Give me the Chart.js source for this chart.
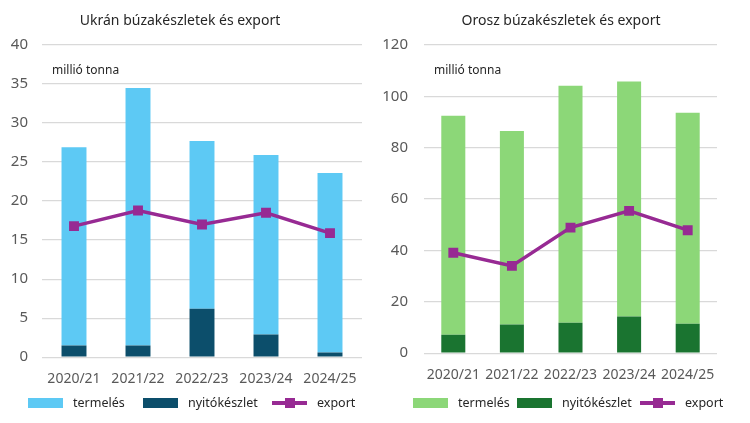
<!DOCTYPE html>
<html>
<head>
<meta charset="utf-8">
<script src="https://cdn.jsdelivr.net/npm/chart.js@4"></script>
<style>
  html, body { margin: 0; padding: 0; background: #fff; }
  .wrap { display: flex; width: 750px; height: 423px; }
  .panel { position: relative; width: 375px; height: 423px; }
  .legend { position: absolute; top: 394px; left: 0; width: 375px; height: 18px;
            font: 12.5px "Noto Sans", "Open Sans", sans-serif; color: #262626; }
  .legend span { position: absolute; top: 0; line-height: 18px; white-space: nowrap; }
  .legend i { position: absolute; display: block; }
</style>
</head>
<body>
<div class="wrap">
  <div class="panel"><canvas id="ukr" width="375" height="423"></canvas><div class="legend" id="ukr-legend"></div></div>
  <div class="panel"><canvas id="rus" width="375" height="423"></canvas><div class="legend" id="rus-legend"></div></div>
</div>
<script>
// ---- Data ----------------------------------------------------------------
const seasons = ['2020/21', '2021/22', '2022/23', '2023/24', '2024/25'];

// Ukraine (million tonnes)
const ukrOpening    = [1.5, 1.5, 6.2, 2.9, 0.6];
const ukrProduction = [25.4, 33.0, 21.5, 23.0, 23.0];
const ukrExport     = [16.8, 18.8, 17.0, 18.5, 15.9];

// Russia (million tonnes)
const rusOpening    = [7.2, 11.2, 11.9, 14.3, 11.5];
const rusProduction = [85.3, 75.3, 92.2, 91.5, 82.1];
const rusExport     = [39.1, 34.0, 48.9, 55.4, 47.9];

const legendNames = ['termelés', 'nyitókészlet', 'export'];

const FONT = '"Noto Sans", "Open Sans", sans-serif';
const TEXT = '#595959';
const PURPLE = '#972A93';

// draws the panel title and the unit note at fixed spots
const captions = {
  id: 'captions',
  afterDraw(chart, args, opts) {
    const ctx = chart.ctx;
    ctx.save();
    ctx.fillStyle = '#262626';
    ctx.font = '14px ' + FONT;
    ctx.textAlign = 'center';
    ctx.textBaseline = 'middle';
    ctx.fillText(opts.title, opts.titleX, 21);
    ctx.font = '12px ' + FONT;
    ctx.textAlign = 'left';
    ctx.fillText('millió tonna', opts.noteX, 71);
    ctx.restore();
  }
};

// html legend: two colour boxes and a line-with-marker swatch
function buildLegend(id, cfg) {
  const el = document.getElementById(id);
  const colors = [cfg.light, cfg.dark, PURPLE];
  legendNames.forEach(function (name, i) {
    const x = cfg.legendX[i];
    if (i < 2) {
      el.insertAdjacentHTML('beforeend',
        '<i style="left:' + x + 'px;top:4px;width:35px;height:10px;background:' + colors[i] + '"></i>');
    } else {
      el.insertAdjacentHTML('beforeend',
        '<i style="left:' + x + 'px;top:7px;width:35px;height:4px;background:' + PURPLE + '"></i>' +
        '<i style="left:' + (x + 13) + 'px;top:4px;width:10px;height:10px;background:' + PURPLE + '"></i>');
    }
    el.insertAdjacentHTML('beforeend',
      '<span style="left:' + (x + 45) + 'px">' + name + '</span>');
  });
}

function makeChart(id, cfg) {
  buildLegend(id + '-legend', cfg);
  return new Chart(document.getElementById(id), {
    type: 'bar',
    data: {
      labels: seasons,
      datasets: [
        {
          type: 'line',
          label: legendNames[2],
          data: cfg.exp,
          borderColor: PURPLE,
          backgroundColor: PURPLE,
          borderWidth: 3.5,
          pointStyle: 'rect',
          pointRadius: 7,
          pointBorderWidth: 0,
          tension: 0,
          order: 0
        },
        {
          label: legendNames[1],
          data: cfg.opening,
          backgroundColor: cfg.dark,
          stack: 's',
          barPercentage: cfg.barPct,
          categoryPercentage: 1,
          order: 1
        },
        {
          label: legendNames[0],
          data: cfg.prod,
          backgroundColor: cfg.light,
          stack: 's',
          barPercentage: cfg.barPct,
          categoryPercentage: 1,
          order: 1
        }
      ]
    },
    plugins: [captions],
    options: {
      responsive: false,
      animation: false,
      layout: { padding: { top: 45, right: cfg.padRight, left: 0, bottom: cfg.padBottom } },
      scales: {
        x: {
          stacked: true,
          grid: { display: false, drawTicks: false },
          border: { display: false },
          ticks: { color: TEXT, font: { family: FONT, size: 14 }, padding: 13, maxRotation: 0 }
        },
        y: {
          stacked: true,
          min: 0,
          max: cfg.max,
          afterFit(axis) { axis.width = cfg.axisW; },
          grid: { color: '#d9d9d9', lineWidth: 1.3, drawTicks: false },
          border: { display: false },
          ticks: { stepSize: cfg.step, color: TEXT, font: { family: FONT, size: 15 }, padding: cfg.tickPad }
        }
      },
      plugins: {
        tooltip: { enabled: false },
        legend: { display: false },
        captions: { title: cfg.title, titleX: cfg.titleX, noteX: cfg.noteX }
      }
    }
  });
}

makeChart('ukr', {
  title: 'Ukrán búzakészletek és export',
  titleX: 180, noteX: 52,
  light: '#5DC9F4', dark: '#0C4E6B',
  prod: ukrProduction, opening: ukrOpening, exp: ukrExport,
  max: 40, step: 5, axisW: 42, tickPad: 14, padRight: 13, padBottom: 23,
  barPct: 0.39, legendX: [28, 143, 272]
});

makeChart('rus', {
  title: 'Orosz búzakészletek és export',
  titleX: 186, noteX: 59,
  light: '#8CD778', dark: '#1A7430',
  prod: rusProduction, opening: rusOpening, exp: rusExport,
  max: 120, step: 20, axisW: 49, tickPad: 16, padRight: 33, padBottom: 27,
  barPct: 0.41, legendX: [38, 142, 265]
});
</script>
</body>
</html>
